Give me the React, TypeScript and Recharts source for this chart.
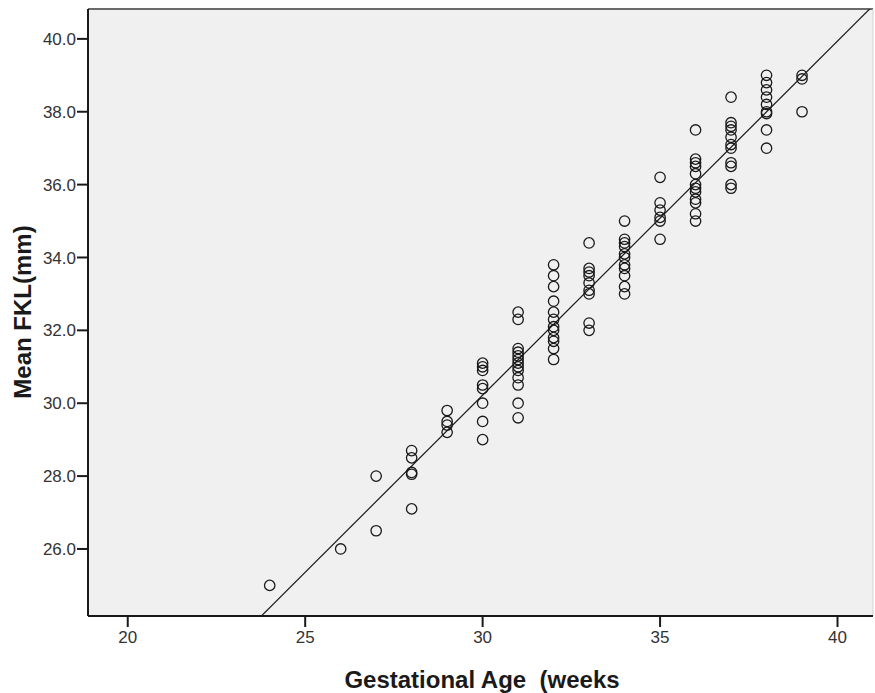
import React from 'react';
import { ScatterChart, Scatter, XAxis, YAxis, CartesianGrid, ReferenceLine } from 'recharts';

// Gestational age (weeks) for each group of measurements
const weeks = [24, 26, 27, 28, 29, 30, 31, 32, 33, 34, 35, 36, 37, 38, 39];

// Mean FKL (mm) measured at each week
const fkl24 = [25.0];
const fkl26 = [26.0];
const fkl27 = [28.0, 26.5];
const fkl28 = [28.7, 28.5, 28.1, 28.05, 27.1];
const fkl29 = [29.8, 29.5, 29.4, 29.2];
const fkl30 = [31.1, 31.0, 30.9, 30.5, 30.4, 30.0, 29.5, 29.0];
const fkl31 = [32.5, 32.3, 31.5, 31.4, 31.3, 31.2, 31.1, 31.0, 30.9, 30.7, 30.5, 30.0, 29.6];
const fkl32 = [33.8, 33.5, 33.2, 32.8, 32.5, 32.3, 32.1, 32.0, 31.8, 31.7, 31.5, 31.2];
const fkl33 = [34.4, 33.7, 33.6, 33.5, 33.3, 33.1, 33.0, 32.2, 32.0];
const fkl34 = [35.0, 34.5, 34.4, 34.3, 34.1, 34.0, 33.8, 33.7, 33.5, 33.2, 33.0];
const fkl35 = [36.2, 35.5, 35.3, 35.1, 35.0, 34.5];
const fkl36 = [37.5, 36.7, 36.6, 36.5, 36.3, 36.0, 35.9, 35.8, 35.6, 35.5, 35.2, 35.0];
const fkl37 = [38.4, 37.7, 37.6, 37.5, 37.3, 37.1, 37.0, 36.6, 36.5, 36.0, 35.9];
const fkl38 = [39.0, 38.8, 38.6, 38.4, 38.2, 38.0, 37.95, 37.5, 37.0];
const fkl39 = [39.0, 38.9, 38.0];

const groups = [fkl24, fkl26, fkl27, fkl28, fkl29, fkl30, fkl31, fkl32, fkl33, fkl34, fkl35, fkl36, fkl37, fkl38, fkl39];

// Tick labels
const xTicks = [20, 25, 30, 35, 40];
const yTicks = [26, 28, 30, 32, 34, 36, 38, 40];

// Fitted regression line
const slope = 0.972;
const intercept = 1.06;

const xDomain: [number, number] = [18.88, 41.0];
const yDomain: [number, number] = [24.16, 40.82];

const points = weeks.flatMap((w, i) => groups[i].map((v) => ({ ga: w, fkl: v })));

const FONT = '"Liberation Sans", Arial, sans-serif';

const OpenCircle = (props: any) => {
  const { cx, cy } = props;
  if (cx == null || cy == null) return null;
  return <circle cx={cx} cy={cy} r={5.2} fill="none" stroke="#1a1a1a" strokeWidth={1.3} />;
};

export default function App() {
  return (
    <div style={{ position: 'absolute', left: 0, top: 0, width: 875, height: 693, background: '#fff' }}>
      <ScatterChart width={875} height={693} margin={{ top: 9, right: 2, bottom: 0, left: 0 }}>
        <CartesianGrid horizontal={false} vertical={false} fill="#f0f0f0" />
        <XAxis
          type="number"
          dataKey="ga"
          domain={xDomain}
          ticks={xTicks}
          allowDataOverflow
          height={77}
          tickSize={11}
          tickMargin={4}
          axisLine={{ stroke: '#1a1a1a', strokeWidth: 2 }}
          tickLine={{ stroke: '#1a1a1a', strokeWidth: 2 }}
          tick={{ fill: '#333', fontSize: 17, fontFamily: FONT }}
          label={{
            content: () => (
              <text x={482} y={679} textAnchor="middle" dominantBaseline="central" fontFamily={FONT} fontWeight="bold" fontSize={24} fill="#1a1a1a">
                {'Gestational Age\u00a0\u00a0(weeks'}
              </text>
            ),
          }}
        />
        <YAxis
          type="number"
          dataKey="fkl"
          domain={yDomain}
          ticks={yTicks}
          allowDataOverflow
          width={88}
          tickSize={11}
          tickMargin={1}
          tickFormatter={(v: number) => v.toFixed(1)}
          axisLine={{ stroke: '#1a1a1a', strokeWidth: 2 }}
          tickLine={{ stroke: '#1a1a1a', strokeWidth: 2 }}
          tick={{ fill: '#333', fontSize: 17, fontFamily: FONT }}
          label={{
            content: () => (
              <text x={22} y={312} transform="rotate(-90 22 312)" textAnchor="middle" dominantBaseline="central" fontFamily={FONT} fontWeight="bold" fontSize={24} fill="#1a1a1a">
                Mean FKL(mm)
              </text>
            ),
          }}
        />
        <ReferenceLine y={yDomain[1]} stroke="#6a6a6a" strokeWidth={2} />
        <ReferenceLine x={xDomain[1]} stroke="#d4d4d4" strokeWidth={1} />
        <ReferenceLine
          segment={[
            { x: 18, y: intercept + slope * 18 },
            { x: 42, y: intercept + slope * 42 },
          ]}
          ifOverflow="hidden"
          stroke="#1a1a1a"
          strokeWidth={1.2}
        />
        <Scatter data={points} shape={OpenCircle} isAnimationActive={false} />
      </ScatterChart>
    </div>
  );
}
